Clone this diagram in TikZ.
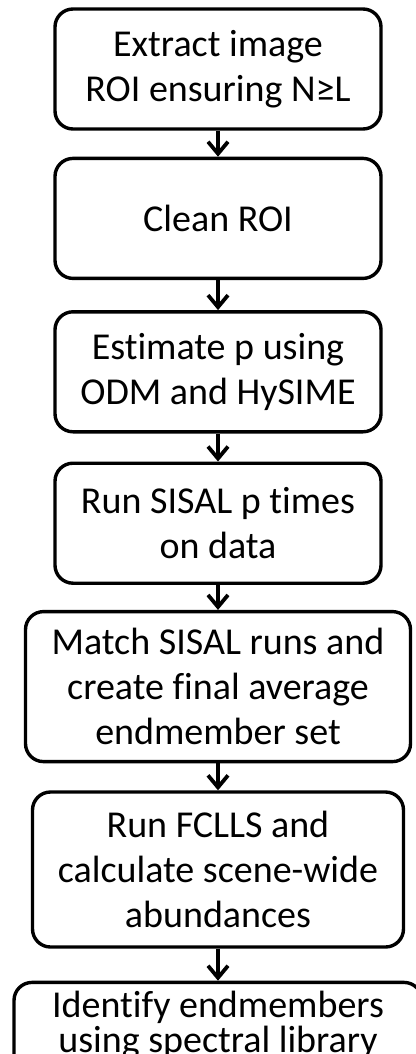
\documentclass[tikz,border=0pt]{standalone}
\usepackage{fontspec}
\setmainfont{Carlito}[Ligatures=NoCommon]
\usepackage{tikz}
\usetikzlibrary{arrows.meta,positioning}
\tikzstyle{stepbox}=[draw,rounded corners=18pt,line width=3.4pt,align=center,inner sep=0pt,font=\fontsize{38}{45}\selectfont]
\tikzstyle{flow}=[line width=3.8pt,-{Straight Barb[length=12pt,width=20pt]}]

\begin{document}
\begin{tikzpicture}[x=1pt,y=1pt]
\useasboundingbox (0,0) rectangle (415,-1054);
\node [stepbox,minimum width=326pt,minimum height=120pt] (extract) at (218,-69) {Extract image\\ROI ensuring N≥L};
\node [stepbox,minimum width=326pt,minimum height=120pt,below=26pt of extract] (clean) {Clean ROI};
\node [stepbox,minimum width=326pt,minimum height=120pt,below=30pt of clean] (estimate) {Estimate p using\\ODM and HySIME};
\node [stepbox,minimum width=326pt,minimum height=120pt,below=28pt of estimate] (sisal) {Run SISAL p times\\on data};
\node [stepbox,minimum width=385pt,minimum height=150pt,below=25pt of sisal] (match) {Match SISAL runs and\\create final average\\endmember set};
\node [stepbox,minimum width=371pt,minimum height=155pt,below=27pt of match] (fclls) {Run FCLLS and\\calculate scene-wide\\abundances};
\node [stepbox,minimum width=408pt,minimum height=100pt,below=32pt of fclls,font=\fontsize{38}{35}\selectfont] (identify) {Identify endmembers\\using spectral library\rule[-22pt]{0pt}{22pt}};
\draw [flow] (extract) -- (clean);
\draw [flow] (clean) -- (estimate);
\draw [flow] (estimate) -- (sisal);
\draw [flow] (sisal) -- (match);
\draw [flow] (match) -- (fclls);
\draw [flow] (fclls) -- (identify);
\end{tikzpicture}
\end{document}
